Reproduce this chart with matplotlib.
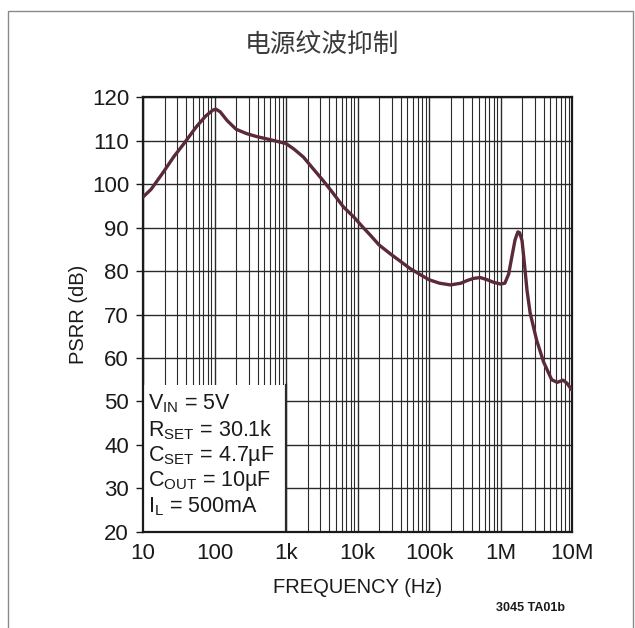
import matplotlib
matplotlib.use('Agg')
import numpy as np
import matplotlib.pyplot as plt
from matplotlib.patches import Rectangle

plt.rcParams['font.family'] = ['Liberation Sans', 'DejaVu Sans']
plt.rcParams['mathtext.default'] = 'regular'

# PSRR curve
freq_hz = [10, 13, 19, 27, 37, 56, 75, 95, 105, 120, 150, 200, 280, 390, 600,
           1000, 1300, 1750, 2400, 3300, 4500, 6300, 9000, 12000, 15000, 20000,
           28500, 40000, 54000, 75000, 100000, 140000, 200000, 280000, 340000,
           420000, 520000, 650000, 800000, 1000000, 1150000, 1300000, 1450000,
           1600000, 1750000, 1850000, 2000000, 2150000, 2350000, 2600000,
           3200000, 4000000, 5200000, 6200000, 7500000, 8500000, 10000000]
psrr_db = [97.0, 98.8, 102.6, 106.3, 109.2, 113.2, 115.6, 117.0, 117.2, 116.6,
           114.6, 112.6, 111.6, 110.9, 110.2, 109.3, 108.0, 106.2, 103.5, 100.8,
           98.0, 94.8, 92.3, 90.0, 88.3, 86.0, 84.0, 82.2, 80.6, 79.2, 78.0,
           77.2, 76.8, 77.2, 77.8, 78.3, 78.5, 78.0, 77.4, 77.0, 77.2, 79.3,
           83.5, 87.2, 89.0, 88.8, 87.0, 82.0, 75.5, 70.3, 64.1, 59.1, 55.0,
           54.4, 54.9, 54.2, 52.6]

x_ticks = [10, 100, 1e3, 1e4, 1e5, 1e6, 1e7]
x_labels = ['10', '100', '1k', '10k', '100k', '1M', '10M']
y_ticks = list(range(20, 121, 10))
cond_lines = [r'V$_{IN}$ = 5V', r'R$_{SET}$ = 30.1k', r'C$_{SET}$ = 4.7µF',
              r'C$_{OUT}$ = 10µF', r'I$_{L}$ = 500mA']

fig = plt.figure(figsize=(6.35, 6.28), dpi=100)
ax = fig.add_axes([0.2252, 0.1529, 0.6756, 0.6926])
ax.set_xscale('log')
ax.set_xlim(10, 1e7)
ax.set_ylim(20, 120)

grid_c = '#2a2a2a'
# vertical grid: every 1..9 x decade
for dec in range(1, 7):
    for m in range(1, 10):
        f = m * 10 ** dec
        ax.axvline(f, color=grid_c, lw=0.8 if m > 1 else 1.0, zorder=1)
for yv in y_ticks:
    ax.axhline(yv, color=grid_c, lw=1.0, zorder=1)

# white conditions box in lower-left corner (10 Hz..1 kHz, 20..~54 dB)
box_top = 53.8
ax.add_patch(Rectangle((10, 20), 1e3 - 10, box_top - 20, facecolor='white',
                       edgecolor='none', zorder=2))
ax.axvline(1e3, ymin=0, ymax=(box_top - 20) / 100, color=grid_c, lw=1.6,
           zorder=2.2)
ax.set_axisbelow(False)

ax.plot(freq_hz, psrr_db, color='#5a2a38', lw=2.4, zorder=3,
        solid_capstyle='round', solid_joinstyle='round')

for i, s in enumerate(cond_lines):
    ax.text(10 * 1.17, 120 - (404 + i * 25.8 - 97) / 4.35, s, fontsize=15.5,
            va='center', ha='left', color='#1a1a1a', zorder=4)

ax.set_xticks(x_ticks)
ax.set_xticklabels(x_labels)
ax.xaxis.set_minor_locator(matplotlib.ticker.NullLocator())
ax.set_yticks(y_ticks)
ax.tick_params(axis='x', direction='in', length=0, labelsize=16, pad=8,
               colors='#1a1a1a')
ax.tick_params(axis='y', direction='out', length=5, width=1, labelsize=16,
               pad=5, colors='#1a1a1a')
for sp in ax.spines.values():
    sp.set_linewidth(1.6)
    sp.set_color('#1a1a1a')

ax.set_xlabel('FREQUENCY (Hz)', fontsize=14.5, labelpad=10, color='#1a1a1a')
ax.set_ylabel('PSRR (dB)', fontsize=14.5, labelpad=3, color='#1a1a1a')

fig.text(322 / 635, 1 - 45 / 628, '电源纹波抑制', ha='center', va='center',
         fontsize=18.5, color='#3a3a3a',
         family=['Noto Sans CJK SC', 'DejaVu Sans'])
fig.text(565 / 635, 1 - 608 / 628, '3045 TA01b', ha='right', va='center',
         fontsize=9, fontweight='bold', color='#1a1a1a')

# outer frame
fig.add_artist(Rectangle((8 / 635, -0.05), 625 / 635, 1.05 - 11 / 628,
                         transform=fig.transFigure, fill=False,
                         edgecolor='#8a8a8a', lw=1.0))

fig.savefig('out.png', dpi=100, facecolor='white')
